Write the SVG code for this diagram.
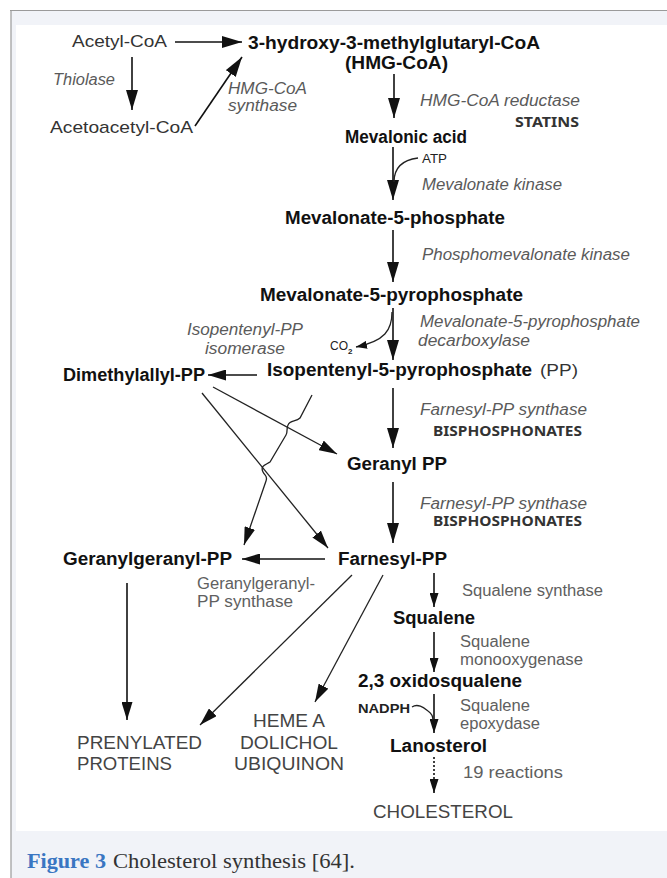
<svg xmlns="http://www.w3.org/2000/svg" width="667" height="878" viewBox="0 0 667 878">
<style>
text{font-family:"Liberation Sans",Arial,sans-serif}
.b{font-weight:bold;font-size:17.5px;fill:#111}
.r{font-size:17px;fill:#333}
.i{font-style:italic;font-size:16px;fill:#5a5a5a}
.g{font-size:16px;fill:#606060}
.cap{font-size:18px;fill:#444}
.drug{font-family:"Noto Sans","Liberation Sans",sans-serif;font-weight:bold;font-size:14px;fill:#333}
.sm{font-size:12px;fill:#222}
.fig{font-family:"Liberation Serif","Times New Roman",serif;font-size:20px}
.ln{fill:none;stroke:#111;stroke-width:1.6}
.thin{fill:none;stroke:#222;stroke-width:1.3}
</style>
<defs>
<marker id="ah" markerUnits="userSpaceOnUse" markerWidth="20" markerHeight="12" refX="20" refY="6" orient="auto"><path d="M0,0 L20,6 L0,12 Z" fill="#111"/></marker>
<marker id="ahm" markerUnits="userSpaceOnUse" markerWidth="18" markerHeight="11" refX="18" refY="5.5" orient="auto"><path d="M0,0 L18,5.5 L0,11 Z" fill="#111"/></marker>
<marker id="ahs" markerUnits="userSpaceOnUse" markerWidth="14" markerHeight="9" refX="14" refY="4.5" orient="auto"><path d="M0,0 L14,4.5 L0,9 Z" fill="#111"/></marker>
<marker id="ahx" markerUnits="userSpaceOnUse" markerWidth="11" markerHeight="8" refX="11" refY="4" orient="auto"><path d="M0,0 L11,4 L0,8 Z" fill="#111"/></marker>
</defs>
<rect x="0" y="0" width="667" height="878" fill="#fff"/>
<rect x="11" y="10" width="656" height="868" fill="#f1f3f8"/>
<rect x="16" y="25" width="651" height="806" fill="#fff"/>
<line x1="10" y1="10.5" x2="667" y2="10.5" stroke="#9a9a9a" stroke-width="1.2"/>
<line x1="11" y1="10" x2="11" y2="878" stroke="#9a9a9a" stroke-width="1.2"/>

<g id="connectors">
<path class="ln" d="M175,42 H242" marker-end="url(#ah)"/>
<path class="ln" d="M132,57 V110" marker-end="url(#ah)"/>
<path class="ln" d="M195,126 L242,57" marker-end="url(#ah)"/>
<path class="ln" d="M394,74 V118" marker-end="url(#ah)"/>
<path class="ln" d="M393,147 V200" marker-end="url(#ah)"/>
<path class="thin" d="M394,182 C394,168 402,160 418,158"/>
<path class="ln" d="M393,230 V282" marker-end="url(#ah)"/>
<path class="ln" d="M393,308 V360" marker-end="url(#ah)"/>
<path class="thin" d="M392,312 C392,330 385,341 356,347" marker-end="url(#ahx)"/>
<path class="ln" d="M257,375 H208" marker-end="url(#ahm)"/>
<path class="ln" d="M393,388 V448" marker-end="url(#ah)"/>
<path class="ln" d="M393,482 V543" marker-end="url(#ah)"/>
<path class="thin" d="M213,387 L337,454" marker-end="url(#ahm)"/>
<path class="thin" d="M202,393 L328,548" marker-end="url(#ahm)"/>
<path class="thin" d="M312,395 L300,418 C296,422 290,420 288,425 C286,429 288,432 286,435 L270,462 C265,465 260,466 263,472 C265,476 268,476 266,481 L244,545" marker-end="url(#ahm)"/>
<path class="ln" d="M325,559 H242" marker-end="url(#ahm)"/>
<path class="ln" d="M127,583 V720" marker-end="url(#ahm)"/>
<path class="thin" d="M352,575 L200,725" marker-end="url(#ahm)"/>
<path class="thin" d="M383,575 L315,702" marker-end="url(#ahm)"/>
<path class="ln" d="M434,573 V607" marker-end="url(#ahs)"/>
<path class="ln" d="M434,632 V672" marker-end="url(#ahs)"/>
<path class="ln" d="M434,694 V733" marker-end="url(#ahs)"/>
<path class="thin" d="M412,707 C418,703 424,708 428,711 C431,713 433,716 433,720"/>
<path class="ln" d="M434,757 V780" stroke-dasharray="2,2"/>
<path class="ln" d="M434,780 V793" marker-end="url(#ahs)"/>
</g>

<g id="n-acetylcoa"><text class="r" x="72" y="47" textLength="95" lengthAdjust="spacingAndGlyphs">Acetyl-CoA</text></g>
<g id="n-acetoacetylcoa"><text class="r" x="50" y="133" textLength="143" lengthAdjust="spacingAndGlyphs">Acetoacetyl-CoA</text></g>
<g id="n-hmgcoa">
<text class="b" x="248" y="49" textLength="292" lengthAdjust="spacingAndGlyphs">3-hydroxy-3-methylglutaryl-CoA</text>
<text class="b" x="345" y="69" textLength="103" lengthAdjust="spacingAndGlyphs">(HMG-CoA)</text>
</g>
<g id="n-mevalonic"><text class="b" x="345" y="143" textLength="122" lengthAdjust="spacingAndGlyphs">Mevalonic acid</text></g>
<g id="n-mev5p"><text class="b" x="285" y="224" textLength="220" lengthAdjust="spacingAndGlyphs">Mevalonate-5-phosphate</text></g>
<g id="n-mev5pp"><text class="b" x="260" y="301" textLength="263" lengthAdjust="spacingAndGlyphs">Mevalonate-5-pyrophosphate</text></g>
<g id="n-ipp">
<text class="b" x="267" y="376" textLength="265" lengthAdjust="spacingAndGlyphs">Isopentenyl-5-pyrophosphate</text>
<text class="r" x="540" y="376" textLength="38" lengthAdjust="spacingAndGlyphs" fill="#222">(PP)</text>
</g>
<g id="n-dmapp"><text class="b" x="63" y="381" textLength="142" lengthAdjust="spacingAndGlyphs">Dimethylallyl-PP</text></g>
<g id="n-geranylpp"><text class="b" x="347" y="470" textLength="100" lengthAdjust="spacingAndGlyphs">Geranyl PP</text></g>
<g id="n-farnesylpp"><text class="b" x="338" y="565" textLength="109" lengthAdjust="spacingAndGlyphs">Farnesyl-PP</text></g>
<g id="n-ggpp"><text class="b" x="63" y="565" textLength="169" lengthAdjust="spacingAndGlyphs">Geranylgeranyl-PP</text></g>
<g id="n-squalene"><text class="b" x="393" y="624" textLength="82" lengthAdjust="spacingAndGlyphs">Squalene</text></g>
<g id="n-oxidosqualene"><text class="b" x="358" y="687" textLength="164" lengthAdjust="spacingAndGlyphs">2,3 oxidosqualene</text></g>
<g id="n-lanosterol"><text class="b" x="390" y="752" textLength="97" lengthAdjust="spacingAndGlyphs">Lanosterol</text></g>
<g id="n-cholesterol"><text class="cap" x="373" y="818" textLength="140" lengthAdjust="spacingAndGlyphs">CHOLESTEROL</text></g>
<g id="n-prenylated">
<text class="cap" x="77" y="749" textLength="125" lengthAdjust="spacingAndGlyphs">PRENYLATED</text>
<text class="cap" x="77" y="770" textLength="95" lengthAdjust="spacingAndGlyphs">PROTEINS</text>
</g>
<g id="n-heme">
<text class="cap" x="253" y="727" textLength="72" lengthAdjust="spacingAndGlyphs">HEME A</text>
<text class="cap" x="240" y="749" textLength="98" lengthAdjust="spacingAndGlyphs">DOLICHOL</text>
<text class="cap" x="234" y="770" textLength="110" lengthAdjust="spacingAndGlyphs">UBIQUINON</text>
</g>

<g id="labels">
<text class="i" x="53" y="85" textLength="62" lengthAdjust="spacingAndGlyphs">Thiolase</text>
<text class="i" x="228" y="94" textLength="79" lengthAdjust="spacingAndGlyphs">HMG-CoA</text>
<text class="i" x="228" y="111" textLength="69" lengthAdjust="spacingAndGlyphs">synthase</text>
<text class="i" x="420" y="106" textLength="160" lengthAdjust="spacingAndGlyphs">HMG-CoA reductase</text>
<text class="drug" x="515" y="127" textLength="64" lengthAdjust="spacingAndGlyphs">STATINS</text>
<text class="sm" x="422" y="163" textLength="25" lengthAdjust="spacingAndGlyphs">ATP</text>
<text class="i" x="422" y="190" textLength="140" lengthAdjust="spacingAndGlyphs">Mevalonate kinase</text>
<text class="i" x="422" y="260" textLength="208" lengthAdjust="spacingAndGlyphs">Phosphomevalonate kinase</text>
<text class="i" x="420" y="327" textLength="220" lengthAdjust="spacingAndGlyphs">Mevalonate-5-pyrophosphate</text>
<text class="i" x="418" y="346" textLength="112" lengthAdjust="spacingAndGlyphs">decarboxylase</text>
<text class="i" x="187" y="335" textLength="116" lengthAdjust="spacingAndGlyphs">Isopentenyl-PP</text>
<text class="i" x="205" y="354" textLength="80" lengthAdjust="spacingAndGlyphs">isomerase</text>
<text class="sm" x="330" y="350">CO<tspan font-size="8" dy="4" font-weight="bold">2</tspan></text>
<text class="i" x="420" y="415" textLength="167" lengthAdjust="spacingAndGlyphs">Farnesyl-PP synthase</text>
<text class="drug" x="433" y="436" textLength="149" lengthAdjust="spacingAndGlyphs">BISPHOSPHONATES</text>
<text class="i" x="420" y="509" textLength="167" lengthAdjust="spacingAndGlyphs">Farnesyl-PP synthase</text>
<text class="drug" x="433" y="526" textLength="149" lengthAdjust="spacingAndGlyphs">BISPHOSPHONATES</text>
<text class="g" x="197" y="589" textLength="118" lengthAdjust="spacingAndGlyphs">Geranylgeranyl-</text>
<text class="g" x="197" y="607" textLength="96" lengthAdjust="spacingAndGlyphs">PP synthase</text>
<text class="g" x="462" y="596" textLength="141" lengthAdjust="spacingAndGlyphs">Squalene synthase</text>
<text class="g" x="460" y="647" textLength="70" lengthAdjust="spacingAndGlyphs">Squalene</text>
<text class="g" x="460" y="665" textLength="123" lengthAdjust="spacingAndGlyphs">monooxygenase</text>
<text class="sm" x="358" y="713" textLength="52" lengthAdjust="spacingAndGlyphs" font-weight="bold" fill="#333">NADPH</text>
<text class="g" x="460" y="711" textLength="70" lengthAdjust="spacingAndGlyphs">Squalene</text>
<text class="g" x="460" y="729" textLength="80" lengthAdjust="spacingAndGlyphs">epoxydase</text>
<text class="g" x="463" y="778" textLength="100" lengthAdjust="spacingAndGlyphs">19 reactions</text>
</g>

<g id="caption">
<text class="fig" x="27" y="868" font-weight="bold" fill="#3a76c2" textLength="79" lengthAdjust="spacingAndGlyphs">Figure 3</text>
<text class="fig" x="113" y="868" fill="#333" textLength="242" lengthAdjust="spacingAndGlyphs">Cholesterol synthesis [64].</text>
</g>
</svg>
